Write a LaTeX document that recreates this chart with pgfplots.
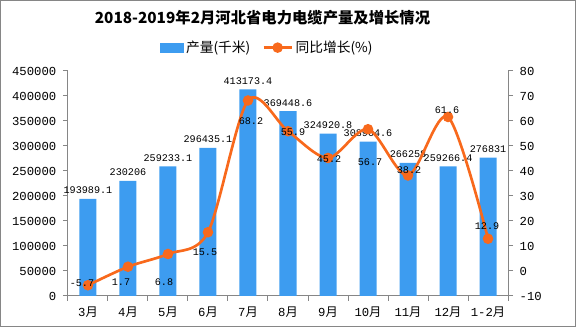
\documentclass[border=0pt]{standalone}
\usepackage{pgfplots}
\pgfplotsset{compat=1.18}
\usepackage{pgfplotstable}
\usepackage{fontspec}
\setmainfont{Liberation Mono}
\newfontfamily\cjk{Noto Sans CJK SC}
\definecolor{barblue}{HTML}{3D9CF0}
\definecolor{lineorange}{HTML}{F8691C}
\definecolor{axgray}{HTML}{868686}

\pgfplotstableread{
x y lab
0 193989.1 193989.1
1 230206 230206
2 259233.1 259233.1
3 296435.1 296435.1
4 413173.4 413173.4
5 369448.6 369448.6
6 324920.8 324920.8
7 308904.6 308904.6
8 266258 266258
9 259266.4 259266.4
10 276831 276831
}\bardata

\pgfplotstableread{
x y lab dx dy
0 -5.7 -5.7 -6 2
1 1.7 1.7 -7 -15
2 6.8 6.8 -4 -28
3 15.5 15.5 -3 -20
4 68.2 68.2 3 -20.5
5 55.9 55.9 5 -1
6 45.2 45.2 1 -1
7 56.7 56.7 2 -33
8 38.2 38.2 1 5.5
9 61.6 61.6 -1 7
10 12.9 12.9 -1 13
}\linedata

\begin{document}
\begin{tikzpicture}
\draw[axgray, line width=0.75pt, use as bounding box] (-50.6pt,-22.85pt) rectangle (380.6pt,221.6pt);
\begin{axis}[
  name=ax, at={(0,0)}, anchor=south west,
  scale only axis, width=330pt, height=168.75pt,
  xmin=-0.5, xmax=10.5, ymin=0, ymax=450000,
  axis y line*=left, axis x line*=bottom,
  axis line style={draw=axgray, line width=0.75pt},
  xtick={0,...,10},
  xticklabels={3{\cjk 月},4{\cjk 月},5{\cjk 月},6{\cjk 月},7{\cjk 月},8{\cjk 月},9{\cjk 月},10{\cjk 月},11{\cjk 月},12{\cjk 月},1-2{\cjk 月}},
  minor xtick={-0.5,0.5,...,10.5},
  major x tick style={draw=none},
  ytick={0,50000,...,450000},
  scaled y ticks=false,
  /pgf/number format/assume math mode=true,
  yticklabel style={/pgf/number format/fixed, /pgf/number format/1000 sep={}},
  tick align=outside,
  tick style={draw=axgray, line width=0.75pt},
  major tick length=3.75pt, minor tick length=3.75pt,
  ticklabel style={font=\fontsize{9.2}{10}\selectfont, text=black},
  yticklabel style={xshift=-1.5pt},
  xticklabel style={yshift=-1pt},
  clip=false,
]
\addplot[ybar, bar width=12.75pt, fill=barblue, draw=none,
  nodes near coords, point meta=explicit symbolic,
  nodes near coords style={font=\fontsize{7.6}{8}\selectfont, anchor=south, inner sep=1pt, yshift=2.5pt, text=black}]
  table[x=x, y=y, meta=lab] {\bardata};
\end{axis}
\begin{axis}[
  at={(0,0)}, anchor=south west,
  scale only axis, width=330pt, height=168.75pt,
  xmin=-0.5, xmax=10.5, ymin=-10, ymax=80,
  axis y line*=right, axis x line=none,
  axis line style={draw=axgray, line width=0.75pt},
  ytick={-10,0,...,80},
  /pgf/number format/assume math mode=true,
  tick align=outside,
  tick style={draw=axgray, line width=0.75pt},
  major tick length=3.75pt,
  ticklabel style={font=\fontsize{9.2}{10}\selectfont, text=black},
  yticklabel style={xshift=1.5pt},
  clip=false,
  title={\cjk\bfseries 2018-2019年2月河北省电力电缆产量及增长情况},
  title style={at={(0.442,1)}, anchor=center, yshift=34pt, font=\fontsize{11.5}{13}\selectfont, inner sep=0pt},
  legend columns=2,
  legend style={draw=none, fill=none, at={(0.209,1)}, anchor=west, yshift=17.5pt,
    inner xsep=0pt, inner ysep=1pt, font=\cjk\fontsize{10.3}{12}\selectfont,
    /tikz/every even column/.append style={column sep=7pt},
    cells={anchor=west}},
]
\addlegendimage{legend image code/.code={\fill[barblue] (0pt,-3.2pt) rectangle (17pt,3.2pt);}}
\addlegendentry{产量(千米)}
\addplot[smooth, tension=0.5, color=lineorange, line width=2pt,
  mark=*, mark size=2.9pt, mark options={fill=lineorange, draw=lineorange},
  nodes near coords, point meta=explicit symbolic,
  visualization depends on={\thisrow{dx}*0.75 \as \dx},
  visualization depends on={\thisrow{dy}*0.75 \as \dy},
  nodes near coords style={font=\fontsize{7.6}{8}\selectfont, anchor=center, inner sep=0pt, xshift=\dx pt, yshift=\dy pt, text=black},
  legend image code/.code={\draw[lineorange, line width=2pt] (0pt,0pt) -- (21pt,0pt); \fill[lineorange] (10.5pt,0pt) circle (2.9pt);}]
  table[x=x, y=y, meta=lab] {\linedata};
\addlegendentry{同比增长(\%)}
\end{axis}
\end{tikzpicture}
\end{document}
